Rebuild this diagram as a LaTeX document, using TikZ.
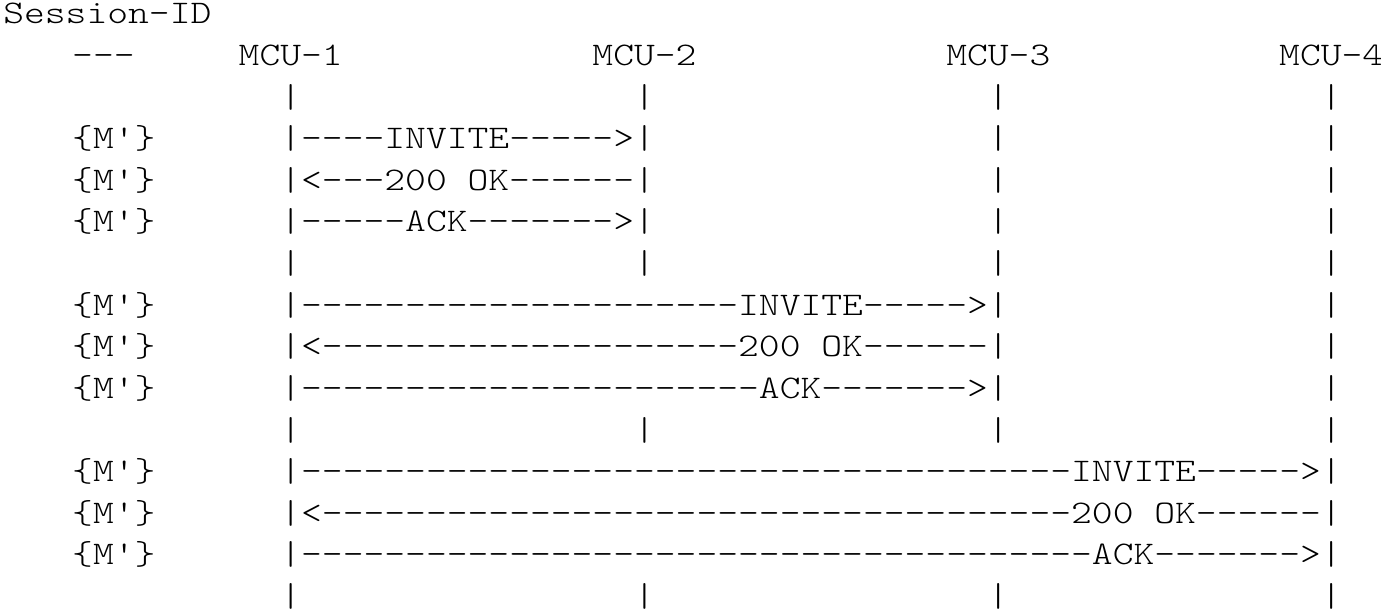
\documentclass[tikz,border=0pt]{standalone}
\usepackage{fontspec}
\setmonofont{lmmonolt10-regular.otf}[FakeStretch=1.2012, Ligatures=TeXOff]
\newcommand\dashrun[1]{\ifnum#1>0 -\expandafter\dashrun\expandafter{\the\numexpr#1-1\relax}\fi}
\tikzset{
  txt/.style={anchor=base west, inner sep=0pt, outer sep=0pt,
    font=\ttfamily\fontsize{33}{40}\selectfont, text=black}
}
\newcommand\seg[4]{\node[txt] (#1) at ({9.8+20.81*(#2)},{-24-41.6*(#3)}) {#4};}
\begin{document}
\begin{tikzpicture}[x=1pt,y=1pt]
\useasboundingbox (0,0) rectangle (1381,-612);
% header
\node[txt] (sid) at (3.3,-24) {Session-ID};
\seg{hdash}{3}{1}{---}
\seg{mcu1}{11}{1}{MCU-1}
\seg{mcu2}{28}{1}{MCU-2}
\seg{mcu3}{45}{1}{MCU-3}
\seg{mcu4}{61}{1}{MCU-4}
% life-line rows
\foreach \r in {2,6,10,14}{
  \seg{pa\r}{13}{\r}{|}
  \seg{pb\r}{30}{\r}{|}
  \seg{pc\r}{47}{\r}{|}
  \seg{pd\r}{63}{\r}{|}
}
% session ids
\foreach \r in {3,4,5,7,8,9,11,12,13}{
  \seg{m\r}{3}{\r}{\{M'\}}
}
% group 1 : MCU-1 <-> MCU-2
\seg{inv1}{13}{3}{|\dashrun{4}INVITE\dashrun{5}>|}
\seg{ok1a}{13}{4}{|<\dashrun{3}200}
\seg{ok1b}{22}{4}{OK\dashrun{6}|}
\seg{ack1}{13}{5}{|\dashrun{5}ACK\dashrun{7}>|}
\foreach \r in {3,4,5}{
  \seg{qc\r}{47}{\r}{|}
  \seg{qd\r}{63}{\r}{|}
}
% group 2 : MCU-1 <-> MCU-3
\seg{inv2}{13}{7}{|\dashrun{21}INVITE\dashrun{5}>|}
\seg{ok2a}{13}{8}{|<\dashrun{20}200}
\seg{ok2b}{39}{8}{OK\dashrun{6}|}
\seg{ack2}{13}{9}{|\dashrun{22}ACK\dashrun{7}>|}
\foreach \r in {7,8,9}{
  \seg{rd\r}{63}{\r}{|}
}
% group 3 : MCU-1 <-> MCU-4
\seg{inv3}{13}{11}{|\dashrun{37}INVITE\dashrun{5}>|}
\seg{ok3a}{13}{12}{|<\dashrun{36}200}
\seg{ok3b}{55}{12}{OK\dashrun{6}|}
\seg{ack3}{13}{13}{|\dashrun{38}ACK\dashrun{7}>|}
\end{tikzpicture}
\end{document}
